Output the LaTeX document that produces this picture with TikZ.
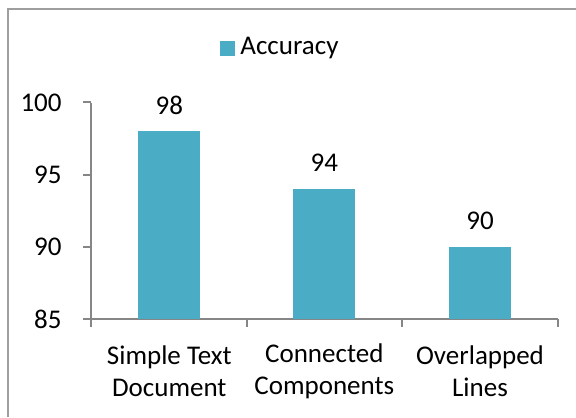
\documentclass[tikz,border=0pt]{standalone}
\usepackage{fontspec}
\setmainfont{Carlito}
\usetikzlibrary{positioning}

\definecolor{barblue}{HTML}{4BACC6}
\definecolor{axisgray}{HTML}{868686}

\tikzset{
  axisline/.style={axisgray, line width=1pt},
  bar/.style={fill=barblue},
  ticklabel/.style={anchor=east, inner sep=0pt},
  catlabel/.style={align=center, inner sep=0pt},
}

\begin{document}
\begin{tikzpicture}[x=0.5pt, y=-0.5pt, font=\fontsize{13.5}{16.2}\selectfont]
    % page in pixels of the reference
    \useasboundingbox (0,0) rectangle (576,417);
    % save axis geometry to macros
    \pgfmathsetmacro{\Ybase}{319}
    \pgfmathsetmacro{\Yunit}{14.44}
    \pgfmathsetmacro{\Barw}{31}

    % chart frame (only left and top visible)
    \draw[axisgray!80, line width=1pt] (8,417) -- (8,9.5) -- (576,9.5);

    % legend
    \fill[barblue] (220,41) rectangle (234.5,56.5);
    \node (legend) [anchor=west, inner sep=0pt] at (240,48.5) {Accuracy};

    % axes
    \coordinate (origin) at (91,\Ybase);
    \draw[axisline] (91,102.7) -- (91,326.7);
    \draw[axisline] (83,\Ybase) -- (557.7,\Ybase);

    % value axis ticks and labels
    \foreach \v in {85,90,95,100} {
      \pgfmathsetmacro{\Ypos}{\Ybase-(\v-85)*\Yunit}
      \draw[axisline] (83,\Ypos) -- (91,\Ypos);
      \node (tick\v) [ticklabel] at (62,\Ypos) {\v};
    }

    % category ticks
    \foreach \x in {246.7,402.3,557.7}
      \draw[axisline] (\x,\Ybase) -- (\x,326.7);

    % bars with values on top
    \foreach \x/\v/\name in {169.3/98/simple, 324.3/94/connected, 480/90/overlapped} {
      \pgfmathsetmacro{\Ytop}{\Ybase-(\v-85)*\Yunit}
      \fill[bar] (\x-\Barw,\Ybase) rectangle (\x+\Barw,\Ytop);
      \coordinate (\name) at (\x,\Ytop);
      \node (val\name) [inner sep=0pt] at (\x,\Ytop-26) {\v};
    }

    % category labels
    \node (catsimple) [catlabel] at (169.3,371) {Simple Text\\Document};
    \node (catconnected) [catlabel] at (324.3,371) {Connected\\Components};
    \node (catoverlapped) [catlabel] at (480,371) {Overlapped\\Lines};
\end{tikzpicture}
\end{document}
